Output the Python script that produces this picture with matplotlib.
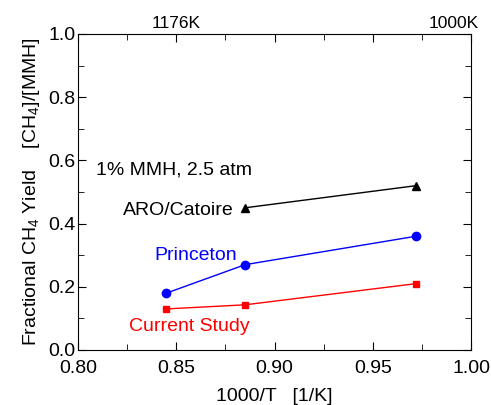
import matplotlib
matplotlib.use('Agg')
import matplotlib.pyplot as plt
from matplotlib.ticker import MultipleLocator

plt.rcParams['font.family'] = ['Liberation Sans', 'DejaVu Sans']
plt.rcParams['mathtext.fontset'] = 'custom'
plt.rcParams['mathtext.rm'] = 'Liberation Sans'
plt.rcParams['mathtext.it'] = 'Liberation Sans'

# 数据
aro_x = [0.885, 0.972]
aro_y = [0.45, 0.52]
princeton_x = [0.845, 0.885, 0.972]
princeton_y = [0.18, 0.27, 0.36]
current_x = [0.845, 0.885, 0.972]
current_y = [0.13, 0.143, 0.21]
top_ticks = [0.85, 1.0]
top_labels = ['1176K', '1000K']

fig = plt.figure(figsize=(4.91, 4.05), dpi=100)
ax = fig.add_axes([78 / 491, 55 / 405, 393 / 491, 316 / 405])

ax.plot(aro_x, aro_y, color='black', lw=1, marker='^', ms=6)
ax.plot(princeton_x, princeton_y, color='blue', lw=1, marker='o', ms=6)
ax.plot(current_x, current_y, color='red', lw=1, marker='s', ms=5)

ax.set_xlim(0.8, 1.0)
ax.set_ylim(0.0, 1.0)
ax.xaxis.set_major_locator(MultipleLocator(0.05))
ax.xaxis.set_minor_locator(MultipleLocator(0.025))
ax.yaxis.set_major_locator(MultipleLocator(0.2))
ax.yaxis.set_minor_locator(MultipleLocator(0.1))
ax.xaxis.set_major_formatter(plt.FormatStrFormatter('%.2f'))
ax.yaxis.set_major_formatter(plt.FormatStrFormatter('%.1f'))
ax.tick_params(which='both', direction='in', top=True, right=True, labelsize=14)
ax.tick_params(which='major', length=6)
ax.tick_params(which='minor', length=4)
ax.tick_params(axis='x', pad=7)
ax.tick_params(axis='y', pad=2)

# 顶部温度标签
ax.text(top_ticks[0], 1.008, top_labels[0], transform=ax.get_xaxis_transform(),
        ha='center', va='bottom', fontsize=12.5)
ax.text(top_ticks[1] + 0.004, 1.008, top_labels[1], transform=ax.get_xaxis_transform(),
        ha='right', va='bottom', fontsize=12.5)

ax.set_xlabel('1000/T   [1/K]', fontsize=14, labelpad=8)
ax.set_ylabel('Fractional CH$_4$ Yield    [CH$_4$]/[MMH]', fontsize=14, labelpad=4)

ax.text(0.809, 0.57, '1% MMH, 2.5 atm', fontsize=14, va='center')
ax.text(0.879, 0.443, 'ARO/Catoire', fontsize=14, va='center', ha='right')
ax.text(0.839, 0.30, 'Princeton', fontsize=14, va='center', color='blue')
ax.text(0.826, 0.073, 'Current Study', fontsize=14, va='center', color='red')

fig.savefig('out.png', dpi=100)
